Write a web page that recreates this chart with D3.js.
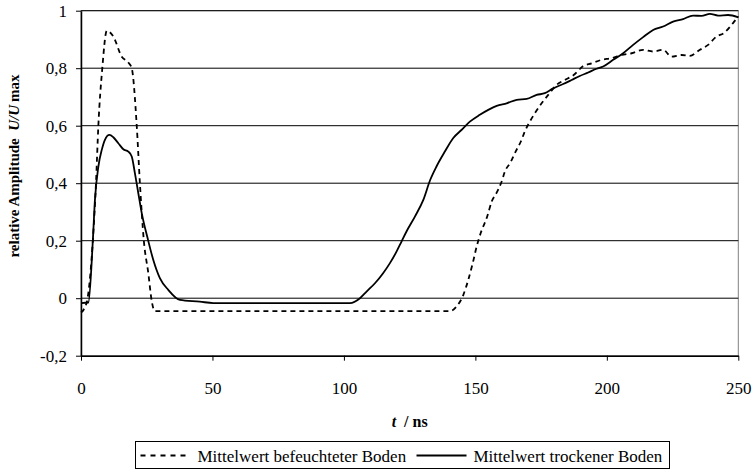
<!DOCTYPE html>
<html lang="de">
<head>
    <meta charset="UTF-8">
    <title>Relative Amplitude</title>
    <style>
        body { margin: 0; background: #fff; }
        svg, svg text { font-family: "Liberation Serif", "DejaVu Serif", serif; fill: #000; }
        .tick text { font-size: 17px; }
        .axis-label { font-size: 15px; font-weight: bold; }
        .x-label { font-size: 16px; }
        .legend-text { font-size: 17px; }
    </style>
</head>
<body>

<svg width="756" height="469" font-family="Liberation Serif"></svg>

<script src="https://d3js.org/d3.v7.min.js"></script>
<script>

    // Time axis (ns) and amplitudes

    const tWet = [0, 1, 2.5, 4.5, 5.7, 6.6, 8.1, 9.8, 12.3, 15.5, 18, 19.3, 21.2, 22.4, 23.9, 25.6, 26.9, 28.1,
        60, 100, 140.3, 142.8, 145.4, 147.3, 149, 150.5, 152, 154.5, 156.2, 158.1, 160, 161.2, 163.4, 165.3,
        167.3, 168.8, 170.7, 172.6, 175.2, 177.7, 180.9, 184, 187.5, 190.8, 194.2, 198, 201.8, 205.6, 209.4,
        213.8, 217.6, 221.4, 224.6, 228.4, 231.6, 235.4, 238.5, 241.7, 244.5, 248, 250];
    const uWet = [-0.05, -0.04, 0.0, 0.2, 0.4, 0.6, 0.8, 0.93, 0.91, 0.84, 0.82, 0.8, 0.6, 0.4, 0.2, 0.087, -0.01, -0.045,
        -0.045, -0.045, -0.045, -0.029, 0.011, 0.064, 0.122, 0.18, 0.226, 0.284, 0.336, 0.367, 0.406, 0.44, 0.473, 0.51,
        0.545, 0.58, 0.614, 0.643, 0.678, 0.707, 0.742, 0.759, 0.777, 0.806, 0.817, 0.829, 0.835, 0.846, 0.852,
        0.864, 0.858, 0.864, 0.84, 0.846, 0.843, 0.864, 0.881, 0.91, 0.922, 0.957, 0.98];

    const tDry = [0, 2.8, 4.5, 5.3, 6.6, 7.9, 9.1, 10.8, 12.3, 14.2, 16.1, 18, 19.3, 20.5, 21.8, 23.1, 25.3, 27.5,
        30, 33.2, 37.6, 45.2, 50.3, 102.3, 106.1, 108.6, 111.8, 114.9, 117.5, 120, 121.9, 123.8, 127, 130.2, 132.8,
        135.2, 138.4, 141.6, 144.7, 147.9, 151.7, 154.9, 158.1, 161.9, 165.7, 169.5, 173.3, 176.4, 179.6, 183.4,
        186.6, 189.7, 192.9, 196.1, 198.6, 202.4, 206.2, 210, 213.8, 217.6, 221.4, 225.2, 229, 232.8, 236, 239.2,
        242.3, 246.1, 250];
    const uDry = [-0.017, -0.015, 0.2, 0.342, 0.458, 0.516, 0.551, 0.568, 0.56, 0.539, 0.518, 0.51, 0.493, 0.435, 0.365,
        0.296, 0.21, 0.133, 0.07, 0.029, -0.006, -0.012, -0.017, -0.017, 0.0, 0.023, 0.052, 0.087, 0.122, 0.162, 0.197,
        0.232, 0.284, 0.342, 0.411, 0.458, 0.51, 0.557, 0.585, 0.614, 0.638, 0.655, 0.669, 0.678, 0.69, 0.693, 0.707,
        0.713, 0.73, 0.745, 0.759, 0.773, 0.785, 0.798, 0.806, 0.829, 0.852, 0.881, 0.908, 0.933, 0.945, 0.962, 0.971,
        0.983, 0.982, 0.989, 0.983, 0.985, 0.977];

    const xTicks = [0, 50, 100, 150, 200, 250];
    const yTicks = [-0.2, 0, 0.2, 0.4, 0.6, 0.8, 1];

    const seriesNames = ['Mittelwert befeuchteter Boden', 'Mittelwert trockener Boden'];

    // German number format: decimal comma, plain hyphen as minus
    const de = d3.formatLocale({
        decimal: ',', thousands: '.', grouping: [3], currency: ['', ' €'], minus: '-'
    });
    const yFormat = de.format('~g');

    const margin = { left: 81, right: 17.7, top: 10.7, bottom: 113.3 };

    const svg = d3.select('svg');
    const width = +svg.attr('width');
    const height = +svg.attr('height');
    const innerWidth = width - margin.left - margin.right;
    const innerHeight = height - margin.top - margin.bottom;

    const xScale = d3.scaleLinear().domain([0, 250]).range([0, innerWidth]);
    const yScale = d3.scaleLinear().domain([-0.2, 1]).range([innerHeight, 0]);

    const group = svg.append('g')
        .attr('transform', 'translate(' + margin.left + ' ' + margin.top + ')');

    // plot area frame (grey, like the spreadsheet default)
    group.append('rect')
        .attr('width', innerWidth)
        .attr('height', innerHeight)
        .attr('fill', 'none')
        .attr('stroke', '#808080')
        .attr('stroke-width', 1);

    // horizontal gridlines
    group.selectAll('.grid')
        .data(yTicks.filter(function (d) { return d > -0.2; }))
        .enter()
        .append('line')
        .attr('class', 'grid')
        .attr('x1', 0)
        .attr('x2', innerWidth)
        .attr('y1', function (d) { return yScale(d); })
        .attr('y2', function (d) { return yScale(d); })
        .attr('stroke', '#000')
        .attr('stroke-width', 1);

    const xAxisG = group.append('g')
        .attr('transform', 'translate(0 ' + innerHeight + ')');
    const yAxisG = group.append('g');

    const xAxis = d3.axisBottom(xScale)
        .tickValues(xTicks)
        .tickSize(5)
        .tickSizeOuter(0)
        .tickPadding(21);

    const yAxis = d3.axisLeft(yScale)
        .tickValues(yTicks)
        .tickFormat(yFormat)
        .tickSize(5)
        .tickSizeOuter(0)
        .tickPadding(9);

    xAxisG.call(xAxis);
    yAxisG.call(yAxis);

    // drop the axis defaults (sans-serif, 10px) so the stylesheet applies
    xAxisG.attr('font-family', null).attr('font-size', null);
    yAxisG.attr('font-family', null).attr('font-size', null);

    svg.selectAll('.domain').attr('stroke', '#000').attr('stroke-width', 1.5);
    svg.selectAll('.tick line').attr('stroke', '#000');
    svg.selectAll('.tick text').attr('fill', '#000');

    // lines
    const line = d3.line()
        .x(function (d) { return xScale(d[0]); })
        .y(function (d) { return yScale(d[1]); })
        .curve(d3.curveMonotoneX);

    const wetData = d3.zip(tWet, uWet);
    const dryData = d3.zip(tDry, uDry);

    group.append('path')
        .datum(wetData)
        .attr('d', line)
        .attr('fill', 'none')
        .attr('stroke', '#000')
        .attr('stroke-width', 1.8)
        .attr('stroke-dasharray', '5,4');

    group.append('path')
        .datum(dryData)
        .attr('d', line)
        .attr('fill', 'none')
        .attr('stroke', '#000')
        .attr('stroke-width', 1.8);

    // axis titles
    const xLabel = svg.append('text')
        .attr('class', 'axis-label x-label')
        .attr('x', margin.left + innerWidth / 2)
        .attr('y', 427)
        .attr('text-anchor', 'middle');
    xLabel.append('tspan').attr('font-style', 'italic').text('t');
    xLabel.append('tspan').text('\u00a0 / ns');

    const yLabel = svg.append('text')
        .attr('class', 'axis-label')
        .attr('transform', 'translate(19 166) rotate(-90)')
        .attr('text-anchor', 'middle');
    yLabel.append('tspan').text('relative Amplitude\u00a0\u00a0');
    yLabel.append('tspan').attr('font-style', 'italic').text('U/U');
    yLabel.append('tspan').text('\u2009max');

    // legend
    const legendG = svg.append('g').attr('transform', 'translate(135.5 441.5)');

    legendG.append('rect')
        .attr('width', 534)
        .attr('height', 27)
        .attr('fill', '#fff')
        .attr('stroke', '#000')
        .attr('stroke-width', 1);

    const legendItems = [
        { name: seriesNames[0], x: 5, dash: '5,5' },
        { name: seriesNames[1], x: 281, dash: null }
    ];

    const cells = legendG.selectAll('.cell')
        .data(legendItems)
        .enter()
        .append('g')
        .attr('class', 'cell')
        .attr('transform', function (d) { return 'translate(' + d.x + ' 0)'; });

    cells.append('line')
        .attr('x1', 0)
        .attr('x2', 50)
        .attr('y1', 14)
        .attr('y2', 14)
        .attr('stroke', '#000')
        .attr('stroke-width', 1.8)
        .attr('stroke-dasharray', function (d) { return d.dash; });

    cells.append('text')
        .attr('class', 'legend-text')
        .attr('x', 57)
        .attr('y', 20)
        .text(function (d) { return d.name; });

</script>
</body>
</html>
